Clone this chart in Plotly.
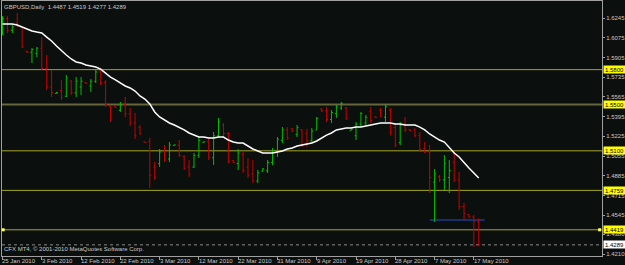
import plotly.graph_objects as go

# ---------------- data ----------------
symbol_title = "GBPUSD,Daily  1.4487 1.4519 1.4277 1.4289"
copyright_text = "CFX MT4, \u00a9 2001-2010 MetaQuotes Software Corp."

opens = [1.6150, 1.6240, 1.6140, 1.6200, 1.6165, 1.5960, 1.5950, 1.5940, 1.5985, 1.5810,
         1.5650, 1.5595, 1.5620, 1.5570, 1.5700, 1.5600, 1.5650, 1.5688, 1.5660, 1.5700,
         1.5780, 1.5690, 1.5480, 1.5480, 1.5450, 1.5500, 1.5420, 1.5340, 1.5300, 1.5178,
         1.5180, 1.4960, 1.4990, 1.5090, 1.5030, 1.5147, 1.5150, 1.5050, 1.4960, 1.4960,
         1.5060, 1.5173, 1.5180, 1.5040, 1.5230, 1.5320, 1.5250, 1.5015, 1.4990, 1.5070,
         1.4960, 1.4900, 1.4840, 1.4925, 1.4930, 1.5000, 1.5090, 1.5190, 1.5280, 1.5290,
         1.5240, 1.5280, 1.5250, 1.5190, 1.5280, 1.5460, 1.5445, 1.5370, 1.5420, 1.5470,
         1.5470, 1.5277, 1.5230, 1.5330, 1.5340, 1.5440, 1.5393, 1.5450, 1.5390, 1.5450,
         1.5300, 1.5170, 1.5330, 1.5282, 1.5280, 1.5230, 1.5120, 1.5090, 1.4830, 1.4880,
         1.4850, 1.4870, 1.5000, 1.4850, 1.4620, 1.4550, 1.4530, 1.4487]
highs = [1.6262, 1.6262, 1.6185, 1.6288, 1.6167, 1.5961, 1.5986, 1.5995, 1.6081, 1.5926,
         1.5797, 1.5605, 1.5711, 1.5754, 1.5711, 1.5736, 1.5736, 1.5690, 1.5719, 1.5797,
         1.5814, 1.5711, 1.5495, 1.5482, 1.5521, 1.5564, 1.5469, 1.5426, 1.5323, 1.5180,
         1.5211, 1.5004, 1.5116, 1.5150, 1.5176, 1.5153, 1.5193, 1.5064, 1.5021, 1.5081,
         1.5219, 1.5180, 1.5219, 1.5262, 1.5383, 1.5340, 1.5262, 1.5021, 1.5116, 1.5090,
         1.5038, 1.5021, 1.4935, 1.4950, 1.5021, 1.5124, 1.5219, 1.5305, 1.5305, 1.5297,
         1.5323, 1.5288, 1.5288, 1.5297, 1.5392, 1.5469, 1.5478, 1.5452, 1.5495, 1.5521,
         1.5478, 1.5285, 1.5348, 1.5435, 1.5409, 1.5478, 1.5395, 1.5469, 1.5504, 1.5469,
         1.5340, 1.5348, 1.5392, 1.5285, 1.5297, 1.5262, 1.5176, 1.5150, 1.4943, 1.4891,
         1.5064, 1.5021, 1.5090, 1.4917, 1.4650, 1.4555, 1.4547, 1.4519]
lows = [1.6098, 1.6116, 1.6116, 1.6167, 1.5986, 1.5943, 1.5857, 1.5909, 1.5797, 1.5624,
        1.5564, 1.5592, 1.5538, 1.5564, 1.5581, 1.5564, 1.5581, 1.5680, 1.5607, 1.5685,
        1.5667, 1.5478, 1.5348, 1.5472, 1.5435, 1.5392, 1.5314, 1.5202, 1.5236, 1.5170,
        1.4780, 1.4848, 1.4961, 1.5004, 1.5004, 1.5145, 1.5047, 1.4935, 1.4874, 1.4952,
        1.5038, 1.5172, 1.5021, 1.4978, 1.5219, 1.5219, 1.4995, 1.4995, 1.4935, 1.4909,
        1.4866, 1.4823, 1.4823, 1.4920, 1.4909, 1.4978, 1.5047, 1.5167, 1.5193, 1.5262,
        1.5219, 1.5133, 1.5133, 1.5167, 1.5280, 1.5435, 1.5348, 1.5340, 1.5383, 1.5452,
        1.5366, 1.5275, 1.5193, 1.5305, 1.5323, 1.5340, 1.5385, 1.5392, 1.5348, 1.5236,
        1.5133, 1.5150, 1.5262, 1.5270, 1.5219, 1.5090, 1.5081, 1.4736, 1.4486, 1.4831,
        1.4762, 1.4736, 1.4831, 1.4590, 1.4504, 1.4521, 1.4271, 1.4277]
closes = [1.6240, 1.6140, 1.6170, 1.6175, 1.5995, 1.5950, 1.5975, 1.5985, 1.5810, 1.5650,
          1.5600, 1.5602, 1.5560, 1.5730, 1.5600, 1.5700, 1.5700, 1.5683, 1.5700, 1.5780,
          1.5690, 1.5500, 1.5390, 1.5475, 1.5500, 1.5420, 1.5340, 1.5230, 1.5250, 1.5172,
          1.4890, 1.4870, 1.5090, 1.5030, 1.5150, 1.5151, 1.5060, 1.4950, 1.4900, 1.5060,
          1.5190, 1.5178, 1.5040, 1.5230, 1.5350, 1.5250, 1.5010, 1.5000, 1.5080, 1.4930,
          1.4890, 1.4840, 1.4910, 1.4945, 1.5000, 1.5100, 1.5200, 1.5280, 1.5210, 1.5270,
          1.5300, 1.5150, 1.5190, 1.5270, 1.5380, 1.5445, 1.5370, 1.5430, 1.5480, 1.5510,
          1.5380, 1.5283, 1.5330, 1.5420, 1.5390, 1.5360, 1.5388, 1.5400, 1.5480, 1.5260,
          1.5150, 1.5320, 1.5280, 1.5275, 1.5230, 1.5110, 1.5090, 1.4870, 1.4900, 1.4850,
          1.4990, 1.4930, 1.4850, 1.4620, 1.4560, 1.4530, 1.4490, 1.4289]
moving_avg = [1.6193, 1.6193, 1.6193, 1.6185, 1.6167, 1.6150, 1.6133, 1.6124, 1.6116, 1.6081,
              1.6047, 1.6004, 1.5961, 1.5926, 1.5892, 1.5866, 1.5857, 1.5840, 1.5831, 1.5823,
              1.5805, 1.5771, 1.5736, 1.5711, 1.5685, 1.5659, 1.5642, 1.5616, 1.5573, 1.5547,
              1.5504, 1.5435, 1.5392, 1.5366, 1.5340, 1.5323, 1.5305, 1.5280, 1.5254, 1.5236,
              1.5219, 1.5219, 1.5211, 1.5211, 1.5219, 1.5219, 1.5193, 1.5176, 1.5167, 1.5167,
              1.5142, 1.5116, 1.5099, 1.5081, 1.5081, 1.5081, 1.5090, 1.5099, 1.5116, 1.5124,
              1.5142, 1.5150, 1.5159, 1.5167, 1.5185, 1.5211, 1.5236, 1.5254, 1.5280, 1.5288,
              1.5297, 1.5297, 1.5305, 1.5305, 1.5314, 1.5323, 1.5331, 1.5340, 1.5340, 1.5340,
              1.5331, 1.5331, 1.5323, 1.5323, 1.5323, 1.5305, 1.5280, 1.5245, 1.5219, 1.5193,
              1.5176, 1.5124, 1.5081, 1.5047, 1.4995, 1.4952, 1.4909, 1.4866]
bar_index = list(range(len(opens)))

date_labels = ["25 Jan 2010", "3 Feb 2010", "12 Feb 2010", "22 Feb 2010", "3 Mar 2010",
               "12 Mar 2010", "22 Mar 2010", "31 Mar 2010", "9 Apr 2010", "19 Apr 2010",
               "28 Apr 2010", "7 May 2010", "17 May 2010"]
date_label_bars = [0, 8, 16, 24, 32, 40, 48, 56, 64, 72, 80, 88, 96]

price_ticks = [1.6245, 1.6075, 1.5905, 1.5735, 1.5565, 1.5395, 1.5225, 1.5055,
               1.4885, 1.4715, 1.4545, 1.4380, 1.4210]
price_tick_text = ["1.6245", "1.6075", "1.5905", "1.5735", "1.5565", "1.5395", "1.5225",
                   "1.5055", "1.4885", "1.4715", "1.4545", "1.4380", "1.4210"]

level_lines = [1.5800, 1.5500, 1.5100, 1.4759, 1.4419]
level_text = ["1.5800", "1.5500", "1.5100", "1.4759", "1.4419"]
bid_price = 1.4289
bid_text = "1.4289"
trend_start_bar, trend_end_bar, trend_level = 87, 98.2, 1.4504

# ---------------- styling ----------------
BG = "#0b0f0e"
FRAME = "#a0a0a0"
TXT = "#c8c8c8"
FONT = "Liberation Sans"

fig = go.Figure()
fig.add_trace(go.Ohlc(
    x=bar_index, open=opens, high=highs, low=lows, close=closes,
    increasing=dict(line=dict(color="#00c000", width=1)),
    decreasing=dict(line=dict(color="#c80000", width=1)),
    tickwidth=0.3, hoverinfo="skip"))
fig.add_trace(go.Scatter(x=bar_index, y=moving_avg, mode="lines",
                         line=dict(color="#ffffff", width=1.5), hoverinfo="skip"))

shapes = []
for lv in level_lines:
    col, w = ("#66663c", 2) if abs(lv - 1.55) < 1e-9 else ("#a6a622", 1)
    shapes.append(dict(type="line", xref="paper", x0=0, x1=1, yref="y", y0=lv, y1=lv,
                       line=dict(color=col, width=w), layer="below"))
shapes.append(dict(type="line", xref="paper", x0=0, x1=1, yref="y", y0=bid_price, y1=bid_price,
                   line=dict(color="#8c8c8c", width=1, dash="dot"), layer="below"))
shapes.append(dict(type="line", xref="x", x0=trend_start_bar, x1=trend_end_bar, yref="y",
                   y0=trend_level, y1=trend_level, line=dict(color="#1a2e6c", width=2), layer="below"))
# selection handles of the 1.4419 line
for xa in (0.002, 0.996):
    shapes.append(dict(type="rect", xref="paper", yref="y", xsizemode="pixel", ysizemode="pixel",
                       xanchor=xa, yanchor=level_lines[-1], x0=-1.5, x1=1.5, y0=-1.5, y1=1.5,
                       fillcolor="#ffff60", line=dict(width=0)))

ann = []
ann.append(dict(text=symbol_title, xref="paper", yref="paper", x=0, y=1, xanchor="left",
                yanchor="top", showarrow=False, xshift=0, yshift=-1,
                font=dict(family=FONT, size=6, color=TXT)))
ann.append(dict(text=copyright_text, xref="paper", yref="paper", x=0, y=0, xanchor="left",
                yanchor="bottom", showarrow=False, xshift=0, yshift=2,
                font=dict(family=FONT, size=6, color=TXT)))
for lab, b in zip(date_labels, date_label_bars):
    ann.append(dict(text=lab, xref="x", yref="paper", x=b, y=0, xanchor="left", yanchor="top",
                    showarrow=False, xshift=-2, yshift=0,
                    font=dict(family=FONT, size=6, color=TXT)))
for lv, t in zip(level_lines, level_text):
    ann.append(dict(text=t, xref="paper", yref="y", x=1, y=lv, xanchor="left", yanchor="middle",
                    showarrow=False, xshift=1, bgcolor="#ffff00", borderpad=0, width=21, height=7,
                    font=dict(family=FONT, size=6, color="#000000")))
ann.append(dict(text=bid_text, xref="paper", yref="y", x=1, y=bid_price, xanchor="left",
                yanchor="middle", showarrow=False, xshift=1, bgcolor="#ffffff", borderpad=0,
                width=21, height=7, font=dict(family=FONT, size=6, color="#000000")))

fig.update_layout(
    width=625, height=265, margin=dict(l=2, r=23, t=1, b=9),
    paper_bgcolor=BG, plot_bgcolor=BG, showlegend=False,
    shapes=shapes, annotations=ann,
    xaxis=dict(range=[-0.1, 122.1], showgrid=False, zeroline=False, showline=True, mirror=True,
               linecolor=FRAME, linewidth=1, tickvals=date_label_bars,
               ticktext=[""] * len(date_label_bars), ticks="outside", ticklen=3,
               tickcolor=FRAME, rangeslider=dict(visible=False), fixedrange=True),
    yaxis=dict(range=[1.4193, 1.6392], side="right", showgrid=False, zeroline=False,
               showline=True, mirror=True, linecolor=FRAME, linewidth=1,
               tickvals=price_ticks, ticktext=price_tick_text, ticks="outside", ticklen=2,
               tickcolor=FRAME, tickfont=dict(family=FONT, size=6, color=TXT), fixedrange=True),
)

fig.write_html("out.html")
